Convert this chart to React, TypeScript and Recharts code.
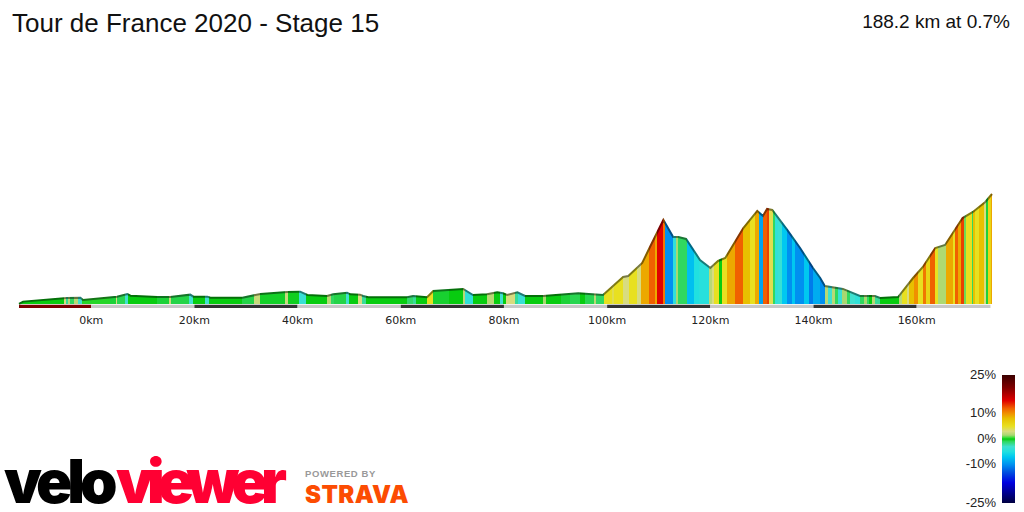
import React from "react";
import { ComposedChart, Area, XAxis, YAxis, ReferenceArea } from "recharts";

const profileKm = [-14,-13.2,-4.7,-2.1,-1.6,5,7,7.6,12.8,15.3,19.2,19.8,22.5,23.1,29.3,32.8,38,40.5,41.9,45.7,46.9,49.6,50.2,52.1,52.7,53.7,61.2,62.4,65.1,66.3,72.1,74,76.7,78.7,79.8,80.6,82.6,84.1,87.6,94.4,99.2,103.1,104.1,106.8,108.3,110.9,112.8,113.8,115.3,118,120,121.5,122.9,126.4,129.1,130.2,131,132,134.9,137.4,139.9,141.3,142.2,145.7,149,151.9,152.9,156.4,159.3,161.2,163.6,165.5,168.9,170.9,173.3,174.6];
const profileElevation = [195,223,266,270,243,282,314,294,278,278,306,282,282,270,270,314,338,341,302,290,310,329,310,306,290,275,275,290,275,350,374,302,310,334,322,302,334,290,290,322,302,516,528,683,873,1195,992,992,969,719,623,707,742,1099,1302,1242,1326,1314,1076,861,623,504,409,374,290,290,266,278,504,635,861,897,1218,1290,1409,1504];

const segmentEndKm = [-5.2,-4.8,-4.5,-4.1,-3.3,-2.5,-1.7,3.7,4.8,5,6.6,7.2,12.8,15.1,15.5,19,19.8,22.1,22.9,29.3,31.6,32.8,37.6,38.2,40.3,41.7,45.7,46.5,47.1,49.4,50,51.7,52.5,53.3,61.2,62.4,63,65.1,66.3,69.4,72.1,72.5,74,76.7,78.1,79.3,79.8,80.4,82.2,82.8,84.1,87.6,88.2,91.1,92.8,94.8,95.7,97.5,97.9,99.4,101,101.4,103,104.2,105.7,106.5,108.1,109.3,109.7,110.9,111.2,112.7,113.4,113.8,115.5,116.9,117.9,119.8,120.3,120.8,121.6,122.3,123.2,124.8,126.4,127.7,128.7,129.5,130.3,130.9,131.3,132.1,132.6,133.1,133.9,134.9,135.9,136.5,138.1,139.1,140,141.3,142.2,142.8,143.5,144.2,144.8,145.5,146.4,147.1,148.1,149,149.7,150.3,150.8,151.3,151.9,152.8,156.5,157.1,158.2,158.6,159.4,160.2,161.3,161.8,162.5,163.6,164.1,165.7,167,167.5,168,168.5,169.1,169.6,170.7,170.9,171.3,172,173,173.4,173.9,174.4,174.6];
const segmentGrade = [0,3,-2,2,-1,2,-3,0.3,-0.5,3,-0.8,-3,0,-0.5,2.5,-0.7,-3,0,-3,0,-0.7,2.5,-0.3,2.5,-0.2,-3.5,0,2,-1,-0.7,-3,0,3,-2,0,-1.2,-2,0,5,-0.4,0,2,-4,0,2,0,-3,0,3,-2,-3.5,0,1.5,0,-0.5,-0.8,0,-0.8,2,-1,5,4,5,3,5,3,9,12,9,15,11,-10,-4,1.5,-1,-7.5,-5,-4.5,2,3,5,0,5,9,12,8,5,9,-9,12,13,4,-1,-4,-3.5,-7,-10,-7,-10,-7,-11,-8.5,-10,2,-3,2,-1,-3.5,1.5,-1,-3,-4,-1,1.5,-1,0,2,-2,0,2,5,3,8,10,5,11,6,12,5,1.7,9,5,12,9,13,1,5,-1,8,5,8,3,-0.5,6,9];

const gradeStops = [25,20,15,12,10,8,5,3,1.5,0.5,0,-1,-3,-5,-7,-10,-13,-17,-25];
const gradeColors = ["#3a0000","#800000","#e00000","#f06000","#f09000","#e8c000","#e8e020","#d8dc80","#a8d870","#38dc38","#08cc10","#30d860","#40e0d0","#20e0e0","#00c8f0","#0090f0","#0050e0","#0000e0","#000040"];

const tickKm = [0,20,40,60,80,100,120,140,160];
const bandStart = [-14,0,20,40,60,80,100,120,140,160];
const bandEnd = [0,20,40,60,80,100,120,140,160,174.3];
const bandColor = ["#7a0000","#c8c8c8","#333333","#c8c8c8","#333333","#c8c8c8","#333333","#c8c8c8","#333333","#c8c8c8"];
const legendGrades = [25,10,0,-10,-25];

const rows = profileKm.map((km, i) => ({ km, elevation: profileElevation[i] }));

const toRgb = (h: string) => [1, 3, 5].map((i) => parseInt(h.slice(i, i + 2), 16));
function gradeColor(g: number, factor = 1) {
  let a = gradeStops.length - 2;
  for (let i = 0; i < gradeStops.length - 1; i++) {
    if (g <= gradeStops[i] && g >= gradeStops[i + 1]) { a = i; break; }
  }
  const t = (gradeStops[a] - g) / (gradeStops[a] - gradeStops[a + 1]);
  const c1 = toRgb(gradeColors[a]);
  const c2 = toRgb(gradeColors[a + 1]);
  const c = c1.map((v, i) => Math.round((v + (c2[i] - v) * t) * factor));
  return `rgb(${c[0]},${c[1]},${c[2]})`;
}

const kmMin = profileKm[0];
const kmMax = profileKm[profileKm.length - 1];
function stops(factor: number) {
  const out: React.ReactElement[] = [];
  let prev = kmMin;
  segmentEndKm.forEach((end, i) => {
    const col = gradeColor(segmentGrade[i], factor);
    out.push(<stop key={`a${i}`} offset={(prev - kmMin) / (kmMax - kmMin)} stopColor={col} />);
    out.push(<stop key={`b${i}`} offset={(end - kmMin) / (kmMax - kmMin)} stopColor={col} />);
    prev = end;
  });
  return out;
}

const sans = "'Liberation Sans', Arial, sans-serif";
const logoFont = "Inter, Lato, sans-serif";
const legendTop = 375;
const legendHeight = 128;
const legendY = (g: number) => legendTop + ((25 - g) / 50) * legendHeight;

export default function App() {
  return (
    <div style={{ position: "fixed", left: 0, top: 0, width: 1024, height: 512, background: "#fff", overflow: "hidden" }}>
      <ComposedChart width={1024} height={512} data={rows} margin={{ top: 194, right: 32, bottom: 174, left: 19 }}>
        <defs>
          <linearGradient id="gradeFill" x1="0" y1="0" x2="1" y2="0">{stops(1)}</linearGradient>
          <linearGradient id="gradeEdge" x1="0" y1="0" x2="1" y2="0">{stops(0.55)}</linearGradient>
        </defs>
        <XAxis
          dataKey="km" type="number" domain={[kmMin, kmMax]} ticks={tickKm} interval={0} height={30}
          axisLine={false} tickLine={false} tickMargin={2}
          tick={{ fontSize: 11, fill: "#222", fontFamily: "'DejaVu Sans', sans-serif" }}
          tickFormatter={(v: number) => `${v}km`}
        />
        <YAxis hide type="number" domain={[147, 1504]} />
        <Area
          dataKey="elevation" type="linear" baseValue={195} isAnimationActive={false}
          fill="url(#gradeFill)" fillOpacity={1} stroke="url(#gradeEdge)" strokeWidth={2} dot={false} activeDot={false}
        />
        {bandStart.map((s, i) => (
          <ReferenceArea key={s} x1={s} x2={bandEnd[i]} y1={147} y2={186} fill={bandColor[i]} fillOpacity={1} stroke="none" ifOverflow="extendDomain" />
        ))}
      </ComposedChart>

      <div style={{ position: "absolute", left: 12, top: 8, fontFamily: sans, fontSize: 26, color: "#111", whiteSpace: "nowrap" }}>Tour de France 2020 - Stage 15</div>
      <div style={{ position: "absolute", right: 14, top: 11, fontFamily: sans, fontSize: 19, color: "#111", whiteSpace: "nowrap" }}>188.2 km at 0.7%</div>

      <svg width={1024} height={512} style={{ position: "absolute", left: 0, top: 0 }}>
        <defs>
          <linearGradient id="legendBar" x1="0" y1="0" x2="0" y2="1">
            {gradeStops.map((g, i) => (
              <stop key={g} offset={(25 - g) / 50} stopColor={gradeColors[i]} />
            ))}
          </linearGradient>
        </defs>
        <rect x={1002} y={legendTop} width={13} height={legendHeight} fill="url(#legendBar)" />
        {legendGrades.map((g) => (
          <text key={g} x={996} y={legendY(g) + 3.5} textAnchor="end" fontFamily={sans} fontSize={13} fill="#222">{`${g}%`}</text>
        ))}
        <text x={4} y={503} fontFamily={logoFont} fontWeight={900} fontSize={60} fill="#000" letterSpacing={-5}>velo</text>
        <text x={116} y={503} fontFamily={logoFont} fontWeight={900} fontSize={60} fill="#ff0033" letterSpacing={-7}>viewer</text>
        <text x={305} y={477} fontFamily={sans} fontWeight={700} fontSize={9.5} fill="#999" letterSpacing={0.6}>POWERED BY</text>
        <text x={305} y={503} fontFamily={logoFont} fontWeight={900} fontSize={24} fill="#fc4c02" letterSpacing={0.4}>STRAVA</text>
      </svg>
    </div>
  );
}
